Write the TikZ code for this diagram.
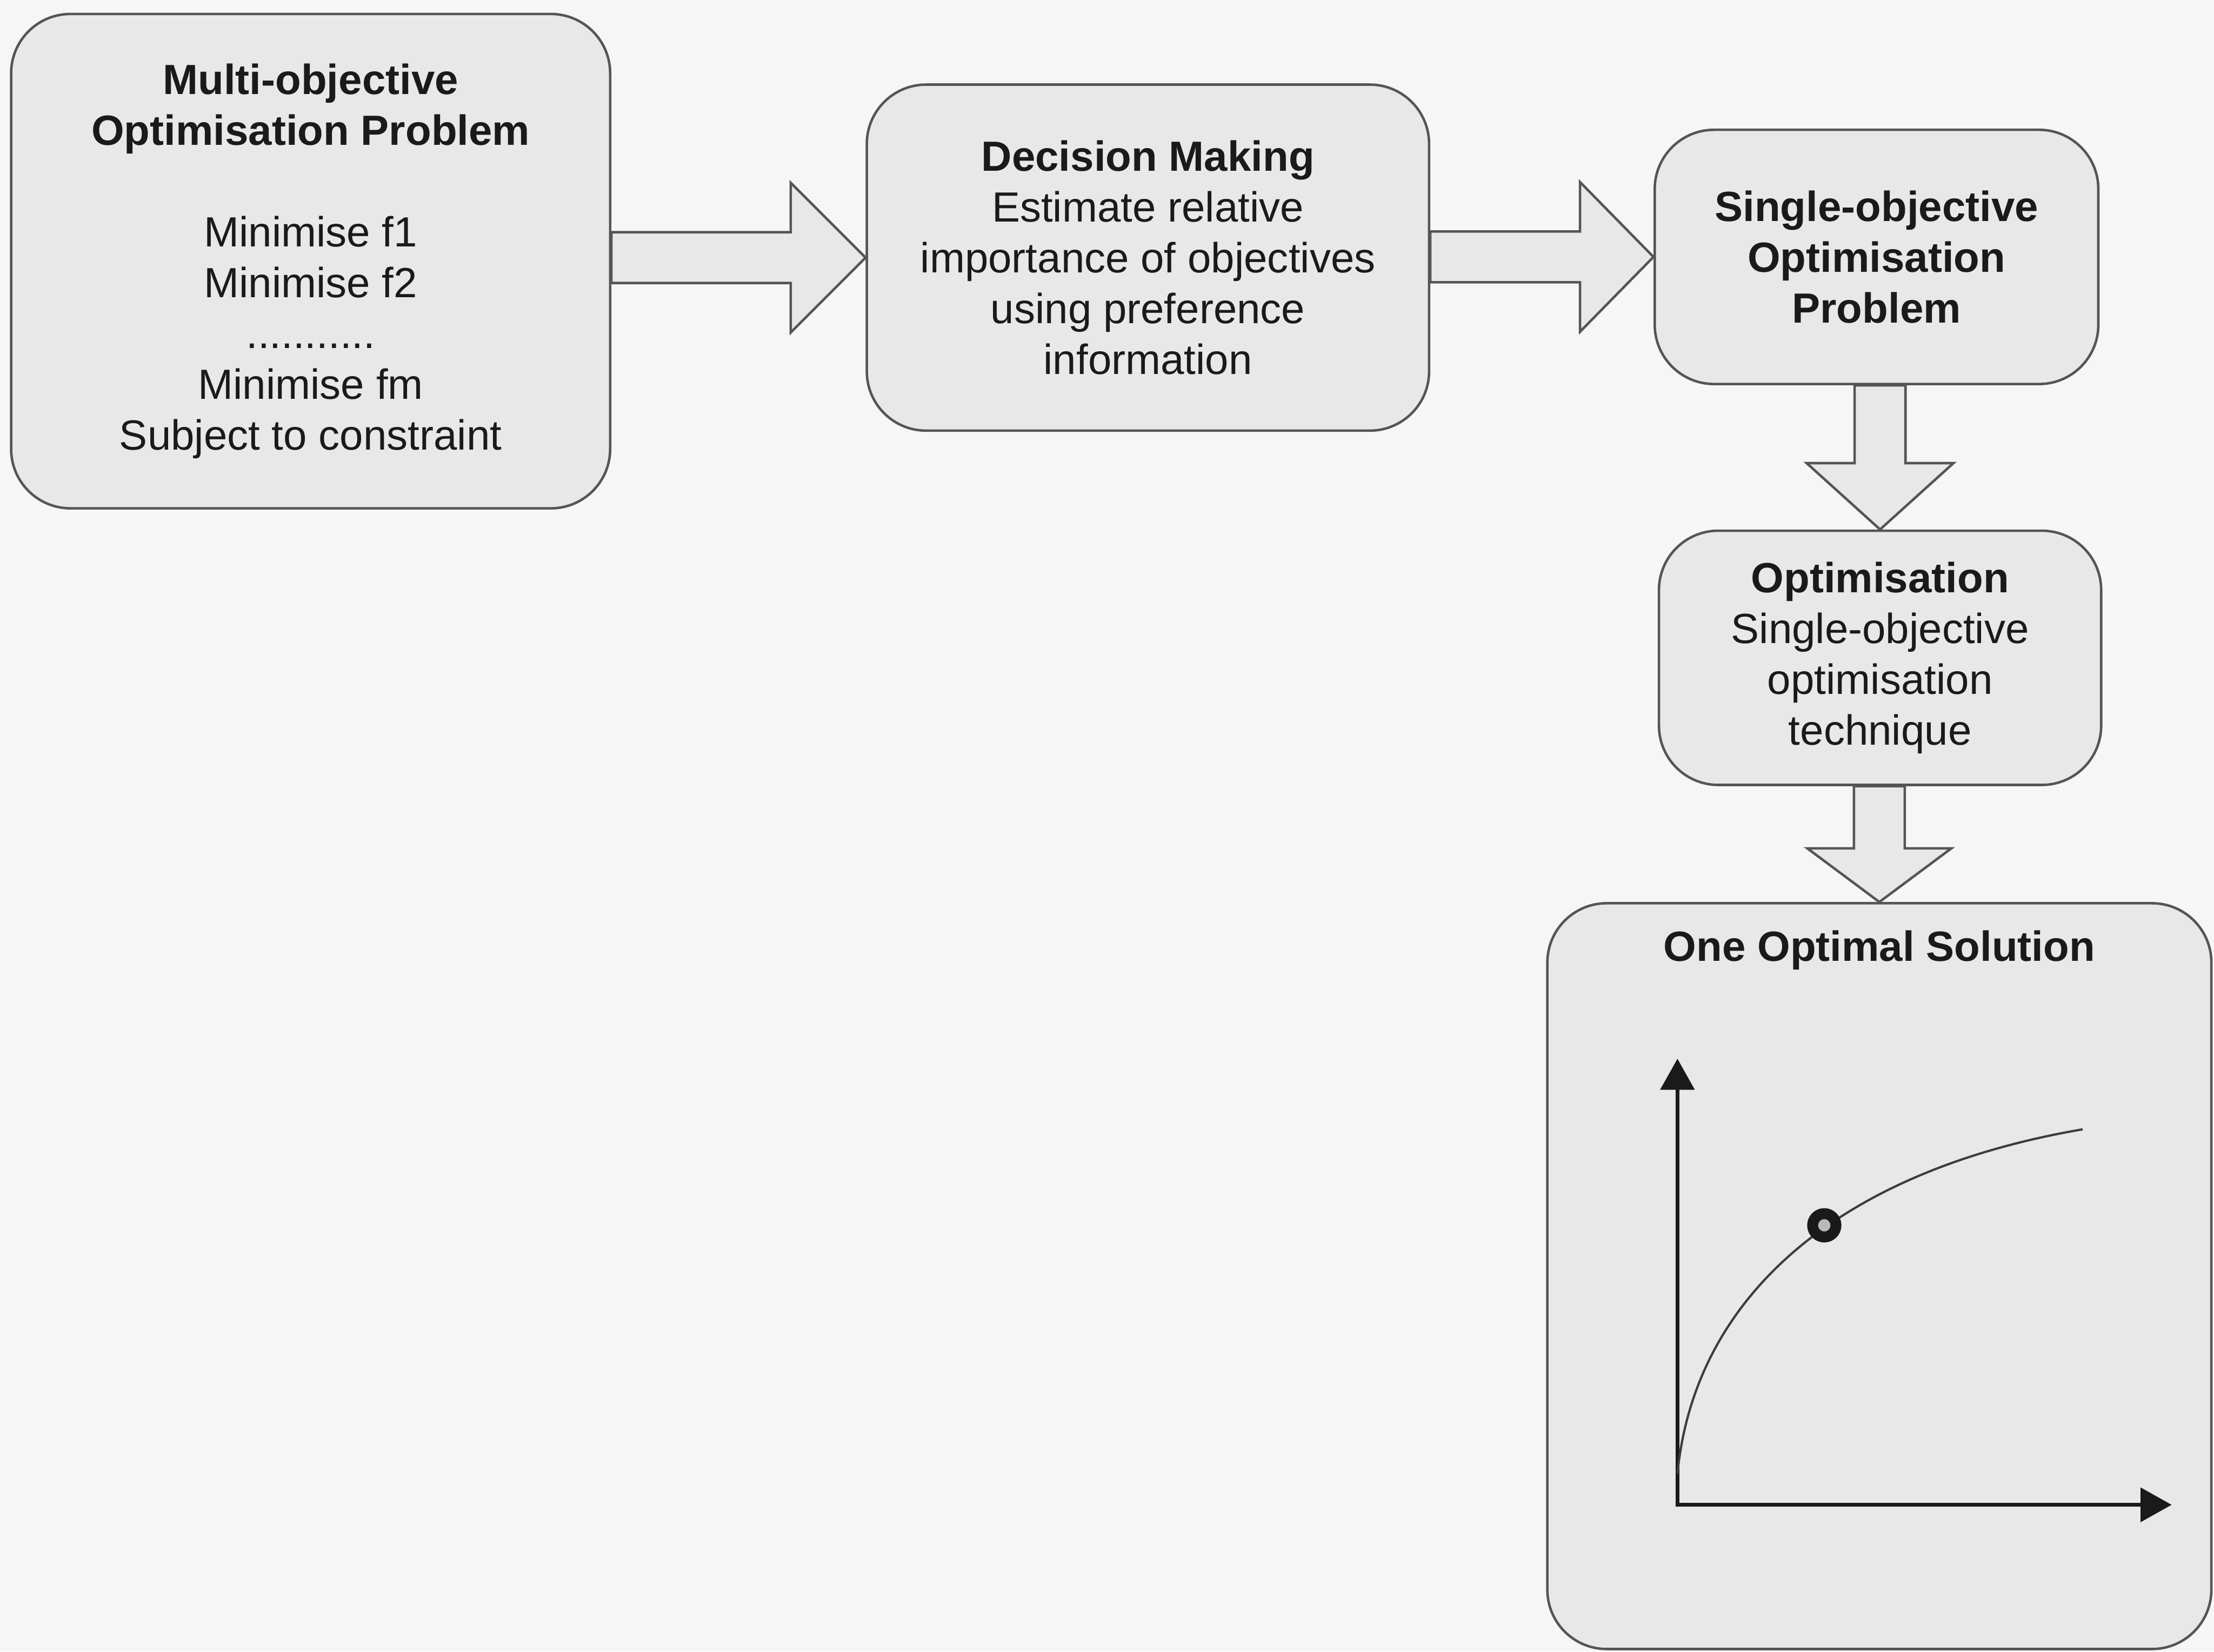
\documentclass[tikz,border=0pt]{standalone}
\usepackage{fontspec}
\setmainfont{Liberation Sans}
\usetikzlibrary{calc,arrows.meta}
\definecolor{pagebg}{HTML}{F6F6F6}
\definecolor{boxfill}{HTML}{E8E8E8}
\definecolor{edge}{HTML}{555555}
\definecolor{ink}{HTML}{1A1A1A}
\begin{document}
\begin{tikzpicture}[x=0.01cm,y=-0.01cm,
  stage/.style={draw=edge, line width=0.5pt, fill=boxfill, rounded corners=0.42cm,
    align=center, text=ink, inner sep=0pt,
    font=\fontsize{8.5pt}{10.24pt}\selectfont},
  blockarrow/.style={draw=edge, line width=0.5pt, fill=boxfill, line join=miter},
  axis/.style={draw=ink, line width=0.7pt,
    {Triangle[length=0.22cm,width=0.24cm]}-{Triangle[length=0.22cm,width=0.24cm]}},
]
% page
\fill[pagebg] (0,0) rectangle (1568,1170);
\useasboundingbox (0,0) rectangle (1568,1170);

% stages of the procedure
\node[stage, minimum width=4.24cm, minimum height=3.50cm] (b1) at (220,185)
  {\textbf{Multi-objective}\\\textbf{Optimisation Problem}\\[10.24pt]
   Minimise f1\\Minimise f2\\...........\\Minimise fm\\Subject to constraint};
\node[stage, minimum width=3.98cm, minimum height=2.45cm] (b2) at (813,182.5)
  {\textbf{Decision Making}\\Estimate relative\\importance of objectives\\using preference\\information};
\node[stage, minimum width=3.14cm, minimum height=1.80cm] (b3) at (1329,182)
  {\textbf{Single-objective}\\\textbf{Optimisation}\\\textbf{Problem}};
\node[stage, minimum width=3.13cm, minimum height=1.80cm] (b4) at (1331.5,466)
  {\textbf{Optimisation}\\Single-objective\\optimisation\\technique};
\node[stage, minimum width=4.70cm, minimum height=5.28cm] (b5) at (1331,904) {};
\node[text=ink, font=\fontsize{8.5pt}{10.24pt}\selectfont\bfseries] (b5title) at (1331,673)
  {One Optimal Solution};

% block arrows between stages
\coordinate (a1s) at (b1.east |- b2.west);
\draw[blockarrow] ($(a1s)+(0,-18)$) -- ($(b2.west)+(-53,-18)$) -- ($(b2.west)+(-53,-53)$)
  -- (b2.west) -- ($(b2.west)+(-53,53)$) -- ($(b2.west)+(-53,18)$) -- ($(a1s)+(0,18)$) -- cycle;

\coordinate (a2s) at (b2.east |- b3.west);
\draw[blockarrow] ($(a2s)+(0,-18)$) -- ($(b3.west)+(-52,-18)$) -- ($(b3.west)+(-52,-53)$)
  -- (b3.west) -- ($(b3.west)+(-52,53)$) -- ($(b3.west)+(-52,18)$) -- ($(a2s)+(0,18)$) -- cycle;

\coordinate (a3s) at (b4.north |- b3.south);
\draw[blockarrow] ($(a3s)+(-18,0)$) -- ($(b4.north)+(-18,-47)$) -- ($(b4.north)+(-52,-47)$)
  -- (b4.north) -- ($(b4.north)+(52,-47)$) -- ($(b4.north)+(18,-47)$) -- ($(a3s)+(18,0)$) -- cycle;

\coordinate (a4s) at (b5.north |- b4.south);
\draw[blockarrow] ($(a4s)+(-18,0)$) -- ($(b5.north)+(-18,-38)$) -- ($(b5.north)+(-51,-38)$)
  -- (b5.north) -- ($(b5.north)+(51,-38)$) -- ($(b5.north)+(18,-38)$) -- ($(a4s)+(18,0)$) -- cycle;

% trade-off curve with the chosen solution
\coordinate (orig) at (1188,1066);
\coordinate (ytip) at (1188,750);
\coordinate (xtip) at (1538,1066);
\draw[axis] (ytip) -- (orig) -- (xtip);
\coordinate (c0) at (1188,1044);
\coordinate (c1) at (1475,800);
\draw[draw=ink!85, line width=0.45pt] (c0) .. controls (1200,920) and (1300,830) .. (c1);
\node[circle, draw=ink, line width=2.2pt, fill=gray!55, inner sep=0pt, minimum size=0.165cm]
  (opt) at (1292,868) {};
\end{tikzpicture}
\end{document}
